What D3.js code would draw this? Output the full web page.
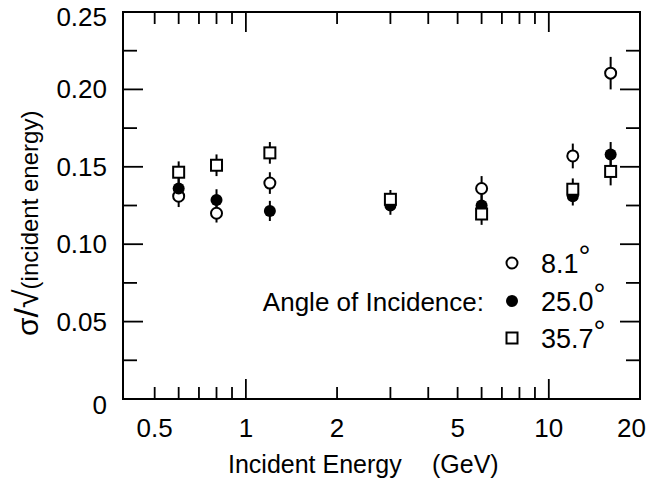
<!DOCTYPE html>
<html><head><meta charset="utf-8">
<script src="https://cdn.jsdelivr.net/npm/d3@7"></script>
<style>
html,body{margin:0;padding:0;background:#fff;}
svg text{font-family:"Liberation Sans",Arial,Helvetica,sans-serif;fill:#000;}
</style></head>
<body><svg id="c" width="648" height="485"></svg>
<script>
const energies = [0.6, 0.8, 1.2, 3, 6, 12, 16];
const open81   = [0.131, 0.120, 0.1395, null, 0.136, 0.157, 0.2105];
const err81    = [0.007, 0.006, 0.007, null, 0.008, 0.008, 0.0105];
const fill250  = [0.136, 0.1285, 0.1215, 0.125, 0.125, 0.131, 0.158];
const err250   = [0.007, 0.007, 0.0065, 0.006, 0.007, 0.006, 0.008];
const sq357    = [0.1465, 0.151, 0.159, 0.129, 0.1195, 0.1355, 0.147];
const err357   = [0.007, 0.007, 0.007, 0.006, 0.007, 0.007, 0.009];
const xTickLabels = [0.5, 1, 2, 5, 10, 20];
const xMinorTicks = [0.5,0.6,0.7,0.8,0.9,2,3,4,5,6,7,8,9];
const xMajorTicks = [1, 10];
const yTickLabels = [0, 0.05, 0.10, 0.15, 0.20, 0.25];
const yMinorTicks = [0.025, 0.075, 0.125, 0.175, 0.225];
const legendLabels = ["8.1", "25.0", "35.7"];

const svg = d3.select("#c");
const L = 123, R = 640, T = 12, B = 399;
const x = d3.scaleLog().domain([0.393, 20]).range([L, R]);
const y = d3.scaleLinear().domain([0, 0.25]).range([B, T]);

// frame
svg.append("rect").attr("x", L).attr("y", T).attr("width", R - L).attr("height", B - T)
  .attr("fill", "none").attr("stroke", "#000").attr("stroke-width", 2);

// axes with inward ticks
const g = svg.append("g").attr("stroke", "#000").attr("stroke-width", 1.8);
xMinorTicks.forEach(v => {
  g.append("line").attr("x1", x(v)).attr("x2", x(v)).attr("y1", B).attr("y2", B - 12);
  g.append("line").attr("x1", x(v)).attr("x2", x(v)).attr("y1", T).attr("y2", T + 12);
});
xMajorTicks.forEach(v => {
  g.append("line").attr("x1", x(v)).attr("x2", x(v)).attr("y1", B).attr("y2", B - 20);
  g.append("line").attr("x1", x(v)).attr("x2", x(v)).attr("y1", T).attr("y2", T + 20);
});
yTickLabels.forEach(v => {
  g.append("line").attr("x1", L).attr("x2", L + 20).attr("y1", y(v)).attr("y2", y(v));
  g.append("line").attr("x1", R).attr("x2", R - 20).attr("y1", y(v)).attr("y2", y(v));
});
yMinorTicks.forEach(v => {
  g.append("line").attr("x1", L).attr("x2", L + 14).attr("y1", y(v)).attr("y2", y(v));
  g.append("line").attr("x1", R).attr("x2", R - 14).attr("y1", y(v)).attr("y2", y(v));
});

// tick labels
svg.selectAll(".xl").data(xTickLabels).enter().append("text")
  .attr("x", d => d === 20 ? 646 : x(d)).attr("y", 437)
  .attr("text-anchor", d => d === 20 ? "end" : "middle")
  .attr("font-size", 26).text(d => d3.format("")(d));
svg.selectAll(".yl").data(yTickLabels).enter().append("text")
  .attr("x", 107).attr("y", d => y(d) + 9 + (d === 0 ? 6 : 0) + (d === 0.25 ? 5 : 0)).attr("text-anchor", "end")
  .attr("font-size", 26).text(d => d === 0 ? "0" : d3.format(".2f")(d));

// axis titles
svg.append("text").attr("x", 228).attr("y", 473).attr("font-size", 25).text("Incident Energy");
svg.append("text").attr("x", 432).attr("y", 473).attr("font-size", 25).text("(GeV)");
const yt = svg.append("text").attr("transform", "translate(38,336) rotate(-90)").attr("font-size", 30);
yt.append("tspan").text("σ");
yt.append("tspan").attr("font-size", 34).text("/√");
yt.append("tspan").attr("font-size", 24).text("(incident energy)");

// data
const series = [
  {vals: open81, errs: err81, type: "open"},
  {vals: fill250, errs: err250, type: "filled"},
  {vals: sq357, errs: err357, type: "square"}
];
const eb = svg.append("g").attr("stroke", "#000").attr("stroke-width", 2);
series.forEach(s => {
  energies.forEach((e, i) => {
    if (s.vals[i] == null) return;
    eb.append("line").attr("x1", x(e)).attr("x2", x(e))
      .attr("y1", y(s.vals[i] - s.errs[i])).attr("y2", y(s.vals[i] + s.errs[i]));
  });
});
function marker(sel, type, cx, cy) {
  if (type === "open") sel.append("circle").attr("cx", cx).attr("cy", cy).attr("r", 5.5)
    .attr("fill", "#fff").attr("stroke", "#000").attr("stroke-width", 2);
  else if (type === "filled") sel.append("circle").attr("cx", cx).attr("cy", cy).attr("r", 6)
    .attr("fill", "#000");
  else sel.append("rect").attr("x", cx - 5.5).attr("y", cy - 5.5).attr("width", 11).attr("height", 11)
    .attr("fill", "#fff").attr("stroke", "#000").attr("stroke-width", 2);
}
const mk = svg.append("g");
series.forEach(s => {
  energies.forEach((e, i) => {
    if (s.vals[i] == null) return;
    marker(mk, s.type, x(e), y(s.vals[i]));
  });
});

// legend
const lg = svg.append("g");
const legY = [263, 301, 338];
series.forEach((s, i) => {
  marker(lg, s.type, 512, legY[i]);
  const t = lg.append("text").attr("x", 541).attr("y", legY[i] + 10).attr("font-size", 27);
  t.append("tspan").text(legendLabels[i]);
  t.append("tspan").attr("dy", -7).attr("font-size", 30).text("°");
});
lg.append("text").attr("x", 484).attr("y", 311).attr("text-anchor", "end").attr("font-size", 26)
  .text("Angle of Incidence:");
</script></body></html>
